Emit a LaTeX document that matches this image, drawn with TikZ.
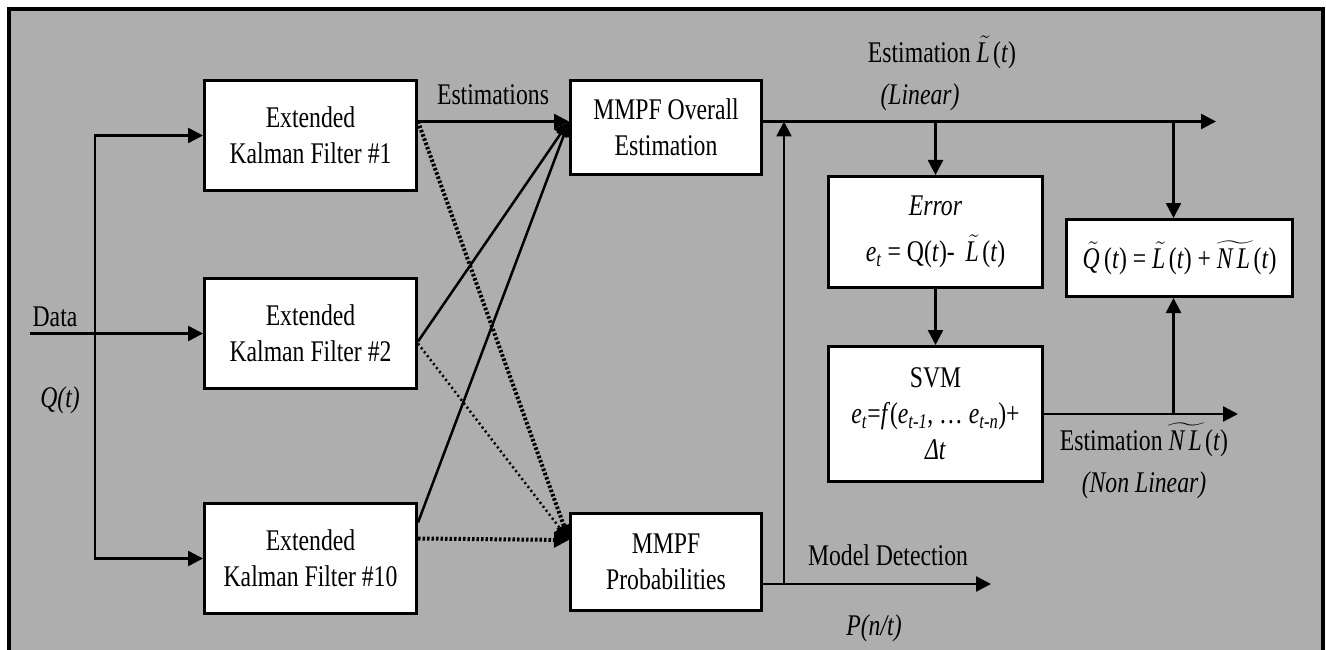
\documentclass[tikz,border=0pt]{standalone}
\usepackage{fix-cm}
\usepackage{amsmath}
\usepackage{fontspec}
\setmainfont[FakeStretch=0.79]{Liberation Serif}
\usepackage{tikz}
\usetikzlibrary{arrows.meta,calc}
\definecolor{panelgray}{RGB}{174,174,174}
\tikzstyle{block}=[draw, fill=white
%,rounded corners
,line width=3pt
,align=center
,inner sep=0pt
]
\tikzstyle{link} = [draw,line width=2.5pt,-{Triangle[length=15pt,width=15pt]}]
\tikzstyle{thickdots} = [link,line width=4pt,dash pattern=on 2.5pt off 2pt]
\tikzstyle{thindots} = [link,line width=2.5pt,dash pattern=on 2pt off 3pt]
\tikzstyle{label} = [inner sep=1pt]

\begin{document}
\begin{tikzpicture}[x=1pt,y=-1pt,font=\fontsize{30}{36}\selectfont]
    \useasboundingbox (0,0) rectangle (1326,650);
    % Grey panel with its frame
    \fill[panelgray] (8,8) rectangle (1323,650);
    \draw[line width=3.5pt] (9,655) -- (9,9) -- (1323,9) -- (1323,655);

    % First we draw the filter bank
    \foreach \pos/\name/\num in {{(310.5,135.5)/ekf1/1}, {(310.5,333.5)/ekf2/2}, {(310.5,558.5)/ekf10/10}}
        \node[block, minimum width=212pt, minimum height=110pt] (\name) at \pos {Extended\\Kalman Filter \#\num};

    % Then the MMPF, error, SVM and sum blocks
    \node[block, minimum width=191pt, minimum height=94pt] (overall) at (666,127.5) {MMPF Overall\\Estimation};
    \node[block, minimum width=191pt, minimum height=97pt] (prob) at (666,562) {MMPF\\Probabilities};
    \node[block, minimum width=214pt, minimum height=111pt] (error) at (935.5,232)
        {\textit{Error}\\[10pt]\textit{e}\textsubscript{\textit{t}} = Q(\textit{t})-\, $\tilde{\mathit{L}}$(\textit{t})};
    \node[block, minimum width=214pt, minimum height=135pt] (svm) at (935.5,414)
        {SVM\\\textit{e}\textsubscript{\textit{t}}=\textit{f}(\textit{e}\textsubscript{\textit{t-1}}, \dots\ \textit{e}\textsubscript{\textit{t-n}})+\\\textit{Δt}};
    \node[block, minimum width=226pt, minimum height=77pt] (qbox) at (1179.5,258)
        {$\tilde{\mathit{Q}}$(\textit{t}) = $\tilde{\mathit{L}}$(\textit{t}) + $\widetilde{\mathit{NL}}$(\textit{t})};

    % Labels
    \node[label] (data) at (55,317) {Data};
    \node[label] (qt) at (60,400) {\textit{Q(t)}};
    \node[label] (est) at (493,95) {Estimations};
    \node[label] (estl) at (942,52) {Estimation $\tilde{\mathit{L}}$(\textit{t})};
    \node[label] (lin) at (920,97) {\textit{(Linear)}};
    \node[label] (estnl) at (1144,440) {Estimation $\widetilde{\mathit{NL}}$(\textit{t})};
    \node[label] (nonlin) at (1144,485) {\textit{(Non Linear)}};
    \node[label] (model) at (888,555) {Model Detection};
    \node[label] (pnt) at (874,628) {\textit{P(n/t)}};

    % Free ends and taps
    \coordinate (din) at (30,333.5);
    \coordinate (split) at (95,333.5);
    \coordinate (ovin) at ($(overall.west)+(0,-6)$);
    \coordinate (ovout) at ($(overall.east)+(0,-6)$);
    \coordinate (prin) at ($(prob.west)+(0,-22)$);
    \coordinate (prout) at ($(prob.east)+(0,22)$);
    \coordinate (lend) at (1216,121.5);
    \coordinate (nlend) at (1238,414);
    \coordinate (pend) at (991,584);
    \coordinate (tap) at (784,0);
    \coordinate (qin) at ($(qbox.north)+(-6,0)$);

    % Data into the filters
    \path[link] (din) -- (ekf2.west);
    \foreach \dest in {ekf1, ekf10}
        \path[link] (split) |- (\dest.west);

    % Filters into the MMPF
    \path[link] ($(ekf1.east)+(0,-14)$) -- (ovin);
    \path[link] ($(ekf2.east)+(0,8)$) -- (ovin);
    \path[link] ($(ekf10.east)+(0,-36)$) -- (ovin);
    \path[thickdots] ($(ekf1.east)+(0,-14)$) -- (prin);
    \path[thindots] ($(ekf2.east)+(0,10)$) -- (prin);
    \path[thickdots] ($(ekf10.east)+(0,-20)$) -- (prin);

    % Linear and non linear branches
    \path[link] (ovout) -- (lend);
    \path[link] (prout) -- (pend);
    \path[link] (prout -| tap) -- (ovout -| tap);
    \path[link] (error.north |- ovout) -- (error.north);
    \path[link] (qin |- ovout) -- (qin);
    \path[link] (error) -- (svm);
    \path[link] (svm.east) -- (nlend);
    \path[link] (qin |- svm.east) -- (qbox.south -| qin);

\end{tikzpicture}
\end{document}
